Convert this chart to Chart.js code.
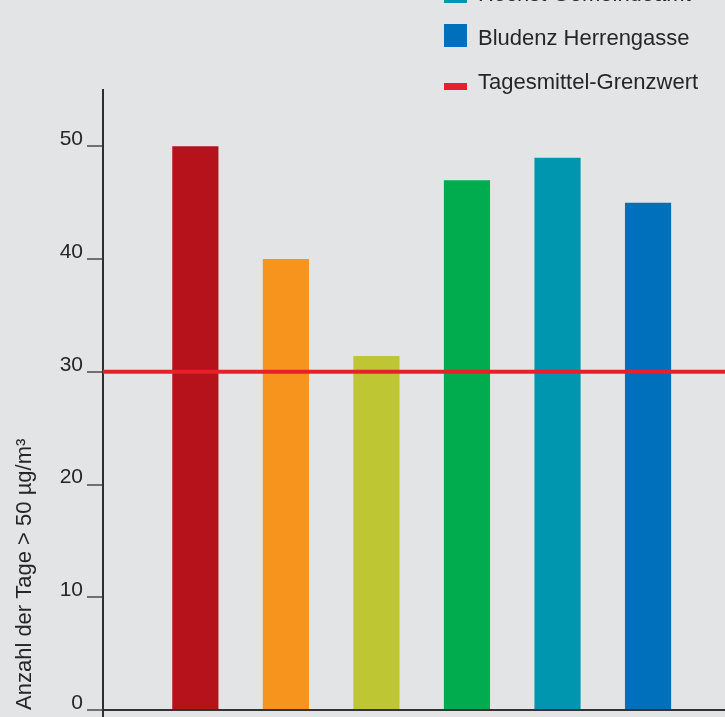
<!DOCTYPE html>
<html lang="de">
<head>
<meta charset="utf-8">
<title>Überschreitungstage PM10</title>
<script src="https://cdn.jsdelivr.net/npm/chart.js@4.4.1/dist/chart.umd.min.js"></script>
<style>
  html, body { margin: 0; padding: 0; background: #e3e4e6; overflow: hidden; }
  #wrap { width: 725px; height: 717px; }
</style>
</head>
<body>
<div id="wrap"><canvas id="canvas" width="725" height="717"></canvas></div>
<script>
// stations in legend order, days with PM10 daily mean above 50 µg/m³
const stations = ['Feldkirch Bärenkreuzung', 'Lustenau Zollamt', 'Lustenau Wiesenrain', 'Dornbirn Stadtstraße', 'Höchst Gemeindeamt', 'Bludenz Herrengasse'];
const daysOver = [50, 40, 31.4, 47, 49, 45];
const barColors = ['#b5121b', '#f7941d', '#bec633', '#00ac4e', '#0096b0', '#0070bc'];

const limitLabel = 'Tagesmittel-Grenzwert';
const limitValue = 30;
const limitColor = '#e8202a';

const yTicks = [0, 10, 20, 30, 40, 50];
const yTitle = 'Anzahl der Tage > 50 µg/m³';

const FONT = '"Liberation Sans", Arial, sans-serif';
const TEXT = '#262626';

document.addEventListener("DOMContentLoaded", () => {

const canvas = document.getElementById('canvas');
const ctx = canvas.getContext('2d');

// horizontal limit line, drawn over the bars
const limitLine = {
    id: 'limitLine',
    afterDatasetsDraw(chart) {
        const { ctx, chartArea, scales } = chart;
        const y = scales.y.getPixelForValue(limitValue);
        ctx.save();
        ctx.strokeStyle = limitColor;
        ctx.lineWidth = 4;
        ctx.beginPath();
        ctx.moveTo(chartArea.left, y);
        ctx.lineTo(chart.width, y);
        ctx.stroke();
        ctx.restore();
    }
};

// legend column at the top right, the list runs up past the top edge
const sideLegend = {
    id: 'sideLegend',
    afterDraw(chart) {
        const c = chart.ctx;
        const x = 444, textX = 478, step = 44;
        const lastBase = 45 + step;  // baseline of the limit entry
        const items = stations.map((s, i) => ({ text: s, color: barColors[i], kind: 'box' }));
        items.push({ text: limitLabel, color: limitColor, kind: 'line' });
        c.save();
        c.font = '22px ' + FONT;
        c.textBaseline = 'alphabetic';
        c.textAlign = 'left';
        items.forEach((it, i) => {
            const base = lastBase - (items.length - 1 - i) * step;
            c.fillStyle = it.color;
            if (it.kind === 'box') c.fillRect(x, base - 21, 23, 23);
            else c.fillRect(x, base - 6, 23, 7);
            c.fillStyle = TEXT;
            c.fillText(it.text, textX, base);
        });
        c.restore();
    }
};

const myChart = new Chart(ctx, {
    type: 'bar',
    data: {
        datasets: [{
            label: 'Überschreitungstage',
            data: daysOver.map((v, i) => ({ x: i + 1, y: v })),
            backgroundColor: barColors,
            barPercentage: 0.51,
            categoryPercentage: 1
        }]
    },
    options: {
        responsive: false,
        devicePixelRatio: 1,
        animation: false,
        layout: { padding: { top: 90, left: 0, right: 0, bottom: 0 } },
        plugins: {
            legend: { display: false },
            tooltip: { enabled: false }
        },
        scales: {
            x: {
                type: 'linear',
                position: 'bottom',
                offset: false,
                min: -0.02,
                max: 6.85,
                border: { color: '#333', width: 2 },
                grid: { offset: false, drawOnChartArea: false, drawTicks: true, tickLength: 8, color: '#333', lineWidth: 2 },
                ticks: { display: false },
                afterBuildTicks: s => { s.ticks = [{ value: s.min }]; },
                afterFit: s => { s.height = 7; s.paddingLeft = 0; s.paddingRight = 0; }
            },
            y: {
                position: 'left',
                min: 0,
                max: 55,
                border: { color: '#2e2e2e', width: 2 },
                grid: { drawOnChartArea: false, drawTicks: true, tickLength: 16, color: '#707070', lineWidth: 2 },
                ticks: {
                    font: { family: FONT, size: 21 },
                    color: TEXT,
                    padding: 4,
                    labelOffset: -7
                },
                afterBuildTicks: s => { s.ticks = yTicks.map(v => ({ value: v })); },
                afterFit: s => { s.width = 103; s.paddingTop = 0; s.paddingBottom = 0; },
                title: {
                    display: true,
                    text: yTitle,
                    align: 'start',
                    color: TEXT,
                    font: { family: FONT, size: 22 },
                    padding: { top: 12, bottom: 0 }
                }
            }
        }
    },
    plugins: [limitLine, sideLegend]
});

});
</script>
</body>
</html>
